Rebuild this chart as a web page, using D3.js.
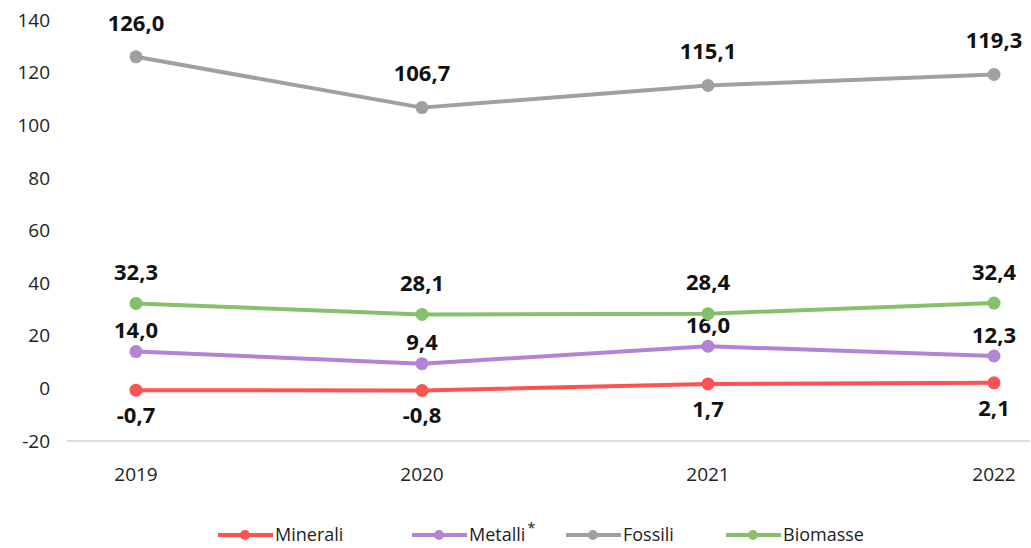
<!DOCTYPE html>
<html>
<head>
<meta charset="utf-8">
<script src="https://cdn.jsdelivr.net/npm/d3@7"></script>
<style>
  html, body { margin: 0; padding: 0; background: #fff; }
  svg { display: block; font-family: "Open Sans", "Noto Sans", sans-serif; }
</style>
</head>
<body>
<svg id="chart" width="1031" height="548"></svg>
<script>
// Years on the horizontal axis
const years = ["2019", "2020", "2021", "2022"];

// Series values
const minerali = [-0.7, -0.8, 1.7, 2.1];
const metalli  = [14.0, 9.4, 16.0, 12.3];
const fossili  = [126.0, 106.7, 115.1, 119.3];
const biomasse = [32.3, 28.1, 28.4, 32.4];

// Vertical axis ticks
const yTicks = [-20, 0, 20, 40, 60, 80, 100, 120, 140];

const series = [
  { name: "Minerali", values: minerali, color: "#ff5252", labelDy: 25 },
  { name: "Metalli",  values: metalli,  color: "#b383d6", labelDy: -21, star: true },
  { name: "Fossili",  values: fossili,  color: "#a0a0a0", labelDy: -34 },
  { name: "Biomasse", values: biomasse, color: "#85c06a", labelDy: -31 }
];

const svg = d3.select("#chart");

const x = d3.scalePoint().domain(years).range([136, 994]);
const y = d3.scaleLinear().domain([-20, 140]).range([441, 20]);

// Y axis tick labels
svg.append("g")
  .selectAll("text")
  .data(yTicks)
  .join("text")
  .attr("x", 50)
  .attr("y", d => y(d))
  .attr("dy", "0.35em")
  .attr("text-anchor", "end")
  .attr("font-size", 19)
  .attr("fill", "#222")
  .text(d => d);

// Baseline at the bottom of the plot
svg.append("line")
  .attr("x1", 67).attr("x2", 1030)
  .attr("y1", y(-20)).attr("y2", y(-20))
  .attr("stroke", "#d0d0d0")
  .attr("stroke-width", 1.5);

// X axis labels
svg.append("g")
  .selectAll("text")
  .data(years)
  .join("text")
  .attr("x", d => x(d))
  .attr("y", 474)
  .attr("dy", "0.35em")
  .attr("text-anchor", "middle")
  .attr("font-size", 19)
  .attr("fill", "#222")
  .text(d => d);

const fmt = v => d3.format(".1f")(v).replace(".", ",").replace("−", "-");

const line = d3.line()
  .x((d, i) => x(years[i]))
  .y(d => y(d));

// Lines, markers and value labels
const groups = svg.append("g")
  .selectAll("g")
  .data(series)
  .join("g");

groups.append("path")
  .attr("d", s => line(s.values))
  .attr("fill", "none")
  .attr("stroke", s => s.color)
  .attr("stroke-width", 4)
  .attr("stroke-linejoin", "round");

groups.selectAll("circle")
  .data(s => s.values.map((v, i) => ({ v, i, s })))
  .join("circle")
  .attr("cx", d => x(years[d.i]))
  .attr("cy", d => y(d.v))
  .attr("r", 6.5)
  .attr("fill", d => d.s.color);

groups.selectAll("text")
  .data(s => s.values.map((v, i) => ({ v, i, s })))
  .join("text")
  .attr("x", d => x(years[d.i]))
  .attr("y", d => y(d.v) + d.s.labelDy)
  .attr("dy", "0.35em")
  .attr("text-anchor", "middle")
  .attr("font-size", 22)
  .attr("font-weight", 700)
  .attr("fill", "#111")
  .text(d => fmt(d.v));

// Legend
const legendX = [218, 412, 566, 726];
const legend = svg.append("g")
  .selectAll("g")
  .data(series)
  .join("g")
  .attr("transform", (d, i) => `translate(${legendX[i]},535)`);

legend.append("line")
  .attr("x1", 0).attr("x2", 55)
  .attr("y1", 0).attr("y2", 0)
  .attr("stroke", d => d.color)
  .attr("stroke-width", 4);

legend.append("circle")
  .attr("cx", 27).attr("cy", 0).attr("r", 5)
  .attr("fill", d => d.color);

const ltext = legend.append("text")
  .attr("x", 57)
  .attr("y", 0)
  .attr("dy", "0.35em")
  .attr("font-size", 18)
  .attr("fill", "#222")
  .text(d => d.name);

ltext.filter(d => d.star)
  .append("tspan")
  .attr("dx", 2)
  .attr("dy", -8)
  .attr("font-size", 15)
  .text("*");
</script>
</body>
</html>
